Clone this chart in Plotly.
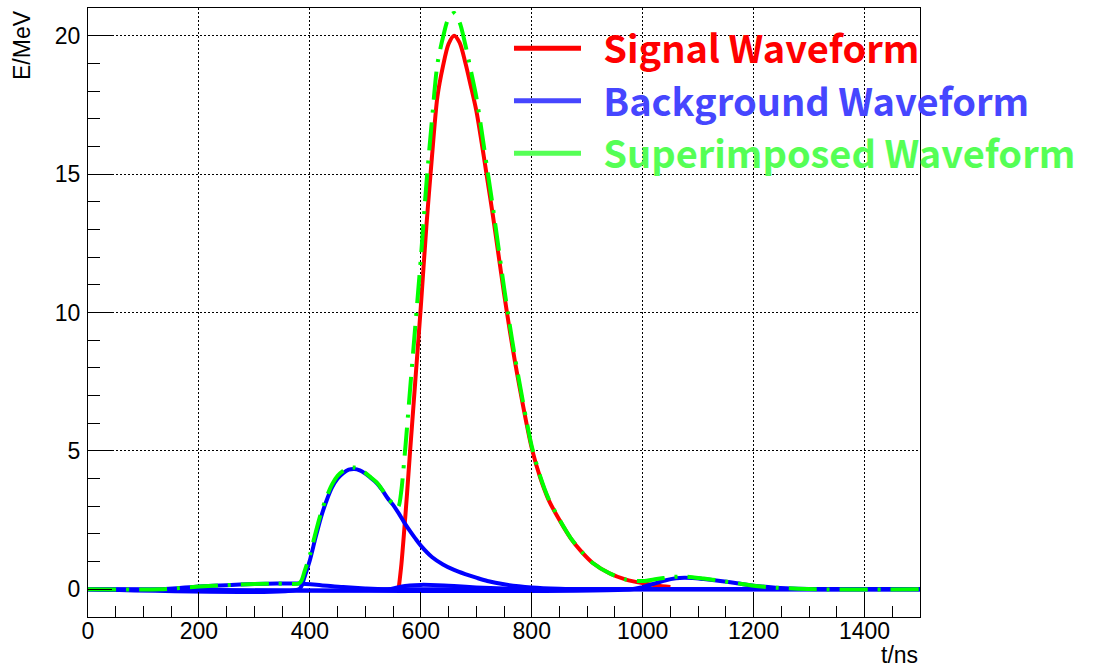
import plotly.graph_objects as go

# ---- data ----
sig_t = [560, 565, 570, 575, 580, 590, 600, 610, 620, 630, 640, 650, 660, 670, 680, 690, 700, 710, 720, 730,
         740, 750, 760, 770, 780, 790, 800, 815, 830, 850, 870, 890, 910, 940, 970, 1000, 1025, 1050]
sig_e = [0, 0.9, 2.1, 3.4, 4.8, 7.5, 10.2, 13.1, 15.6, 17.8, 18.9, 19.7, 20.0, 19.75, 19.05, 18.2, 17.3, 16.1, 14.8, 13.5,
         12.1, 10.7, 9.4, 8.2, 7.1, 6.05, 5.1, 4.05, 3.25, 2.5, 1.85, 1.35, 0.95, 0.58, 0.35, 0.22, 0.14, 0.08]

bgA_t = [0, 130, 160, 200, 250, 300, 340, 380, 420, 460, 500, 540, 1500]
bgA_e = [0, 0, 0.04, 0.1, 0.15, 0.19, 0.21, 0.21, 0.15, 0.08, 0.03, 0, 0]

bgB_t = [0, 380, 385, 390, 400, 410, 420, 430, 440, 450, 460, 470, 480, 490, 500, 510, 520, 530, 540, 550,
         560, 570, 580, 590, 600, 620, 640, 660, 680, 700, 720, 750, 800, 850, 900, 1500]
bgB_e = [0, 0, 0.12, 0.42, 1.05, 1.85, 2.6, 3.2, 3.68, 4.0, 4.2, 4.32, 4.35, 4.3, 4.18, 4.02, 3.85, 3.6, 3.3, 3.05,
         2.75, 2.42, 2.12, 1.84, 1.58, 1.17, 0.9, 0.7, 0.55, 0.42, 0.3, 0.18, 0.07, 0.02, 0, 0]

bgC_t = [0, 540, 560, 580, 600, 630, 660, 700, 750, 800, 1500]
bgC_e = [0, 0, 0.08, 0.14, 0.16, 0.15, 0.12, 0.07, 0.03, 0, 0]

bgD_t = [0, 980, 1000, 1020, 1040, 1060, 1075, 1090, 1110, 1140, 1170, 1200, 1240, 1280, 1320, 1500]
bgD_e = [0, 0, 0.08, 0.2, 0.32, 0.4, 0.42, 0.41, 0.37, 0.3, 0.22, 0.13, 0.06, 0.02, 0, 0]

sup_t = [0, 130, 160, 200, 250, 300, 340, 380, 385, 390, 400, 410, 420, 430, 440, 450, 460, 470,
         480, 490, 500, 510, 520, 530, 540, 550, 556, 560, 565, 570, 575, 580, 590, 600, 610, 620, 630, 640, 650,
         660, 670, 680, 690, 700, 710, 720, 730, 740, 750, 760, 770, 780, 790, 800, 815, 830, 850, 870, 890,
         910, 940, 970, 1000, 1025, 1050, 1075, 1090, 1110, 1140, 1170, 1200, 1240, 1280, 1320, 1500]
sup_e = [0, 0, 0.04, 0.1, 0.15, 0.19, 0.21, 0.21, 0.32, 0.62, 1.24, 2.02, 2.75, 3.33, 3.79, 4.1, 4.28, 4.39,
         4.4, 4.34, 4.21, 4.04, 3.87, 3.61, 3.3, 3.09, 2.95, 3.0, 3.58, 4.63, 5.8, 7.06, 9.49, 11.94, 14.63, 16.93, 18.98, 19.94, 20.63,
         20.82, 20.48, 19.7, 18.76, 17.79, 16.52, 15.15, 13.8, 12.36, 10.91, 9.59, 8.36, 7.23, 6.15, 5.17, 4.1, 3.29, 2.52, 1.86, 1.36,
         0.95, 0.58, 0.35, 0.3, 0.37, 0.44, 0.46, 0.44, 0.39, 0.31, 0.22, 0.13, 0.06, 0.02, 0, 0]

x_ticks = [0, 200, 400, 600, 800, 1000, 1200, 1400]
y_ticks = [0, 5, 10, 15, 20]

legend_names = ["Signal Waveform", "Background Waveform", "Superimposed Waveform"]

RED = "#ff0000"
BLUE = "#0000ff"
GREEN = "#00ff00"
LEG_COLORS = ["#ff0000", "#4646ff", "#55ff55"]

fig = go.Figure()

fig.add_trace(go.Scatter(x=sig_t, y=sig_e, mode="lines", line=dict(color=RED, width=4, shape="spline", smoothing=0.8),
                         showlegend=False, name=legend_names[0]))
for bt, be in [(bgA_t, bgA_e), (bgB_t, bgB_e), (bgC_t, bgC_e), (bgD_t, bgD_e)]:
    fig.add_trace(go.Scatter(x=bt, y=be, mode="lines", line=dict(color=BLUE, width=4, shape="spline", smoothing=0.8),
                             showlegend=False, name=legend_names[1]))
fig.add_trace(go.Scatter(x=sup_t, y=sup_e, mode="lines",
                         line=dict(color=GREEN, width=4, shape="spline", smoothing=0.8, dash="28px,10px,3px,10px"),
                         showlegend=False, name=legend_names[2]))

# legend entries (solid sample lines like the reference)
nb = "\u00a0\u00a0"
for nm, c in zip(legend_names, LEG_COLORS):
    fig.add_trace(go.Scatter(x=[None], y=[None], mode="lines", line=dict(color=c, width=5),
                             name=f'{nb}<span style="color:{c}">{nm}</span>'))

axis_common = dict(
    showline=True, linecolor="black", linewidth=1, mirror=True,
    ticks="inside", tickcolor="black", tickwidth=1,
    showgrid=True, gridcolor="black", gridwidth=1, griddash="2px,2px",
    zeroline=False, automargin=False,
    tickfont=dict(family="Liberation Sans, Arial, sans-serif", size=23, color="black"),
)

fig.update_xaxes(range=[0, 1500], tickvals=x_ticks, ticktext=[str(v) for v in x_ticks], ticklen=25,
                 ticklabelstandoff=-7,
                 minor=dict(dtick=50, tick0=0, ticklen=11, ticks="inside", tickcolor="black", showgrid=False),
                 **axis_common)
fig.update_yaxes(range=[-1, 21], tickvals=y_ticks, ticktext=[str(v) for v in y_ticks], ticklen=24,
                 ticklabelstandoff=2,
                 minor=dict(dtick=1, tick0=0, ticklen=12, ticks="inside", tickcolor="black", showgrid=False),
                 **axis_common)

fig.update_layout(
    width=1094, height=668,
    margin=dict(l=88, r=174, t=8, b=51, autoexpand=False),
    plot_bgcolor="white", paper_bgcolor="white",
    font=dict(family="Liberation Sans, Arial, sans-serif", size=23, color="black"),
    showlegend=True,
    legend=dict(x=0.506, y=0.985, xanchor="left", yanchor="top", bgcolor="rgba(0,0,0,0)", borderwidth=0,
                itemwidth=67, tracegroupgap=0,
                font=dict(family="Noto Sans CJK SC", size=38, weight="bold")),
    annotations=[
        dict(text="t/ns", xref="paper", yref="paper", x=1.0, y=-0.063, xanchor="right", yanchor="middle",
             showarrow=False, font=dict(family="Liberation Sans, Arial, sans-serif", size=23)),
        dict(text="E/MeV", xref="paper", yref="paper", x=-0.08, y=0.94, xanchor="center", yanchor="middle",
             textangle=-90, showarrow=False, font=dict(family="Liberation Sans, Arial, sans-serif", size=23)),
    ],
)

fig.write_html("out.html", config={"displayModeBar": False},
               post_script="document.body.style.margin='0px';")
